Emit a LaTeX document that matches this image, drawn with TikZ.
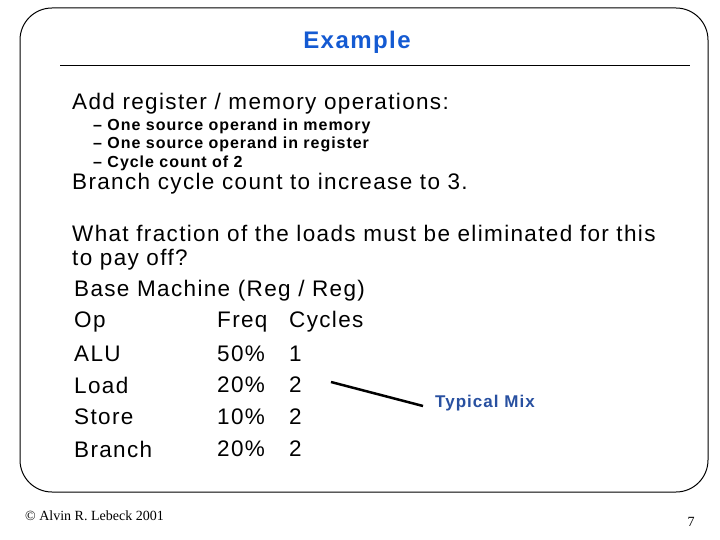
\documentclass[tikz,border=0pt]{standalone}
\usepackage{fontspec}
\setmainfont{Liberation Sans}
\newfontfamily\timesfont{Liberation Serif}
\newfontfamily\widefont[LetterSpace=6]{Liberation Sans}
\definecolor{titleblue}{RGB}{20,90,210}
\definecolor{mixblue}{RGB}{40,80,160}
\tikzset{
  body/.style={anchor=west, inner sep=0pt, font=\widefont\fontsize{22.5}{26}\selectfont},
  sub/.style={anchor=west, inner sep=0pt, font=\widefont\fontsize{16}{18}\selectfont\bfseries},
  foot/.style={inner sep=0pt, font=\timesfont\fontsize{14}{16}\selectfont}
}
\begin{document}
\begin{tikzpicture}[x=1pt, y=-1pt]
\useasboundingbox (0,0) rectangle (720,540);
\draw[line width=1pt, rounded corners=32pt] (20,8) rectangle (708,492);
\node[inner sep=0pt, font=\widefont\fontsize{24}{28}\selectfont\bfseries, text=titleblue] (title) at (357,42) {Example};
\draw[line width=1pt] (60,66) -- (690,66);

\node[body] (add) at (72,104) {Add register / memory operations:};
\node[sub] (s1) at (93,126) {– One source operand in memory};
\node[sub] (s2) at (93,144) {– One source operand in register};
\node[sub] (s3) at (93,163) {– Cycle count of 2};
\node[body] (branch) at (72,184) {Branch cycle count to increase to 3.};
\node[body] (what) at (72,233) {What fraction of the loads must be eliminated for this};
\node[body] (pay) at (72,260) {to pay off?};
\node[body] (base) at (74,291) {Base Machine (Reg / Reg)};

% table
\foreach \y/\a/\b/\c in {322/Op/Freq/Cycles, 354/ALU/50\%/1, 385/Load/20\%/2,
  417/Store/10\%/2, 449/Branch/20\%/2}
{
  \node[body] (op\y) at (74,\y) {\a};
  \node[body] (fr\y) at (217,\y) {\b};
  \node[body] (cy\y) at (289,\y) {\c};
}

\node[inner sep=0pt, font=\widefont\fontsize{17}{20}\selectfont\bfseries, text=mixblue] (mix) at (485,403) {Typical Mix};
\coordinate (lineA) at (331,382);
\draw[line width=2.5pt] (lineA) -- ([xshift=-12pt, yshift=-3pt]mix.west);

\node[foot, anchor=west] (copy) at (25,516) {© Alvin R. Lebeck 2001};
\node[foot] (page) at (691,522) {7};
\end{tikzpicture}
\end{document}
